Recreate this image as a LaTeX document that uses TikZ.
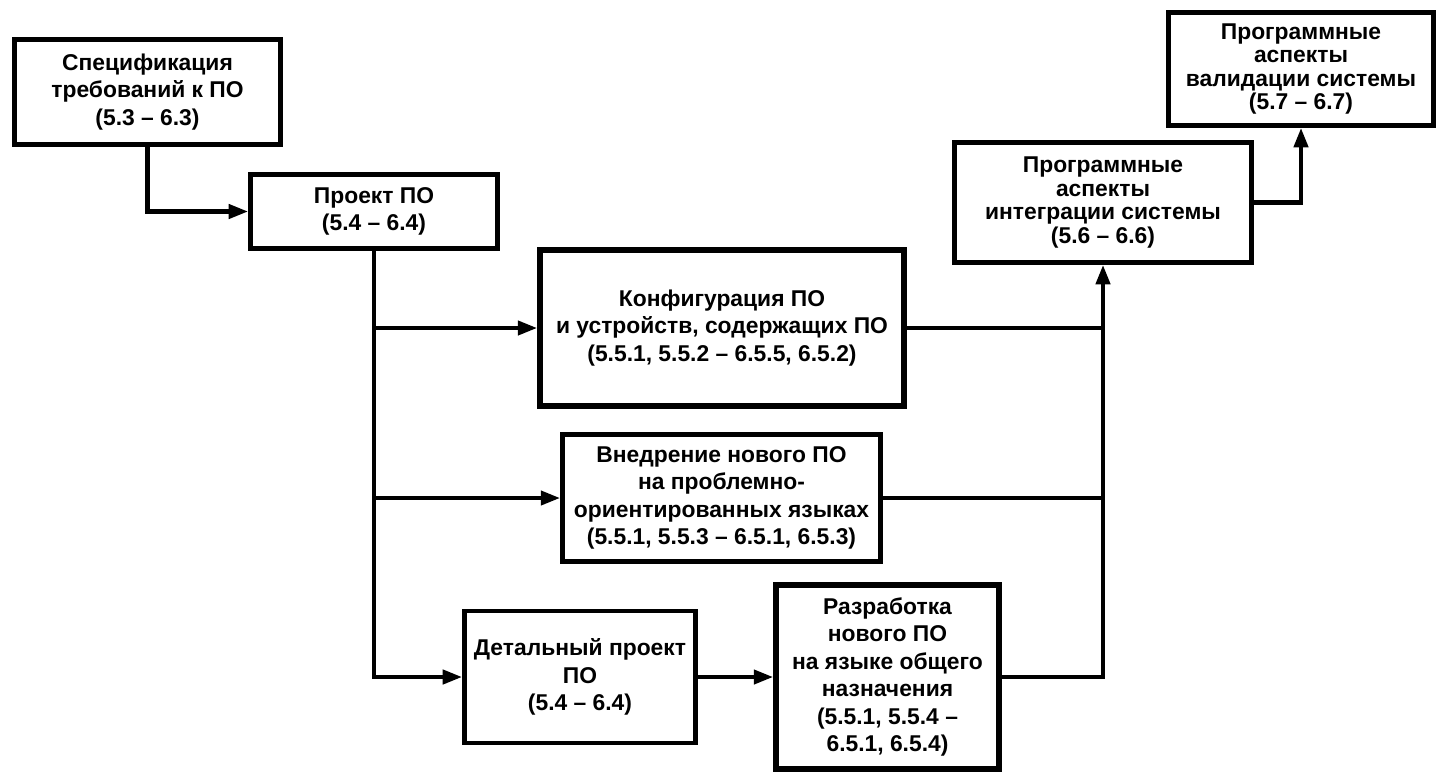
\documentclass[tikz,border=0pt]{standalone}
\usepackage{fontspec}
\setmainfont{Liberation Sans}
\usetikzlibrary{arrows.meta}

\begin{document}
\begin{tikzpicture}[x=0.02cm, y=-0.02cm,
    caja/.style={draw, line width=2.8pt, align=center, inner sep=0pt,
      font=\bfseries\fontsize{13}{15.6}\selectfont},
    cajaalta/.style={caja, font=\bfseries\fontsize{13}{13.4}\selectfont},
    linea/.style={line width=2.3pt},
    flecha/.style={linea, -{Triangle[length=11pt,width=8pt]}}]
    % Marco
    \useasboundingbox (0,0) rectangle (1439,772);

    % Cajas
    \node[caja, minimum width=5.32cm, minimum height=2.10cm] (espec) at (147.5,92)
      {Спецификация\\требований к ПО\\(5.3 -- 6.3)};
    \node[caja, minimum width=4.94cm, minimum height=1.48cm] (proy) at (374,211.5)
      {Проект ПО\\(5.4 -- 6.4)};
    \node[caja, line width=3.3pt, minimum width=7.28cm, minimum height=3.12cm] (conf) at (722,328)
      {Конфигурация ПО\\и устройств, содержащих ПО\\(5.5.1, 5.5.2 -- 6.5.5, 6.5.2)};
    \node[caja, minimum width=6.36cm, minimum height=2.54cm] (impl) at (721.5,498)
      {Внедрение нового ПО\\на проблемно-\\ориентированных языках\\(5.5.1, 5.5.3 -- 6.5.1, 6.5.3)};
    \node[caja, minimum width=4.62cm, minimum height=2.64cm] (detal) at (580,677)
      {Детальный проект\\ПО\\(5.4 -- 6.4)};
    \node[caja, line width=3.3pt, minimum width=4.46cm, minimum height=3.68cm] (desar) at (887.5,677)
      {Разработка\\нового ПО\\на языке общего\\назначения\\(5.5.1, 5.5.4 --\\6.5.1, 6.5.4)};
    \node[cajaalta, minimum width=5.94cm, minimum height=2.40cm] (integ) at (1103,202.5)
      {Программные\\аспекты\\интеграции системы\\(5.6 -- 6.6)};
    \node[cajaalta, minimum width=5.30cm, minimum height=2.26cm] (valid) at (1301,69)
      {Программные\\аспекты\\валидации системы\\(5.7 -- 6.7)};

    % Conexiones
    \draw[flecha] (espec.south) |- (proy.west);
    \draw[flecha] (proy.south) |- (detal.west);
    \draw[flecha] (proy.south |- conf.west) -- (conf.west);
    \draw[flecha] (proy.south |- impl.west) -- (impl.west);
    \draw[flecha] (detal.east) -- (desar.west);
    \draw[flecha] (desar.east) -| (integ.south);
    \draw[linea] (conf.east) -- (integ.south |- conf.east);
    \draw[linea] (impl.east) -- (integ.south |- impl.east);
    \draw[flecha] (integ.east) -| (valid.south);
\end{tikzpicture}
\end{document}
